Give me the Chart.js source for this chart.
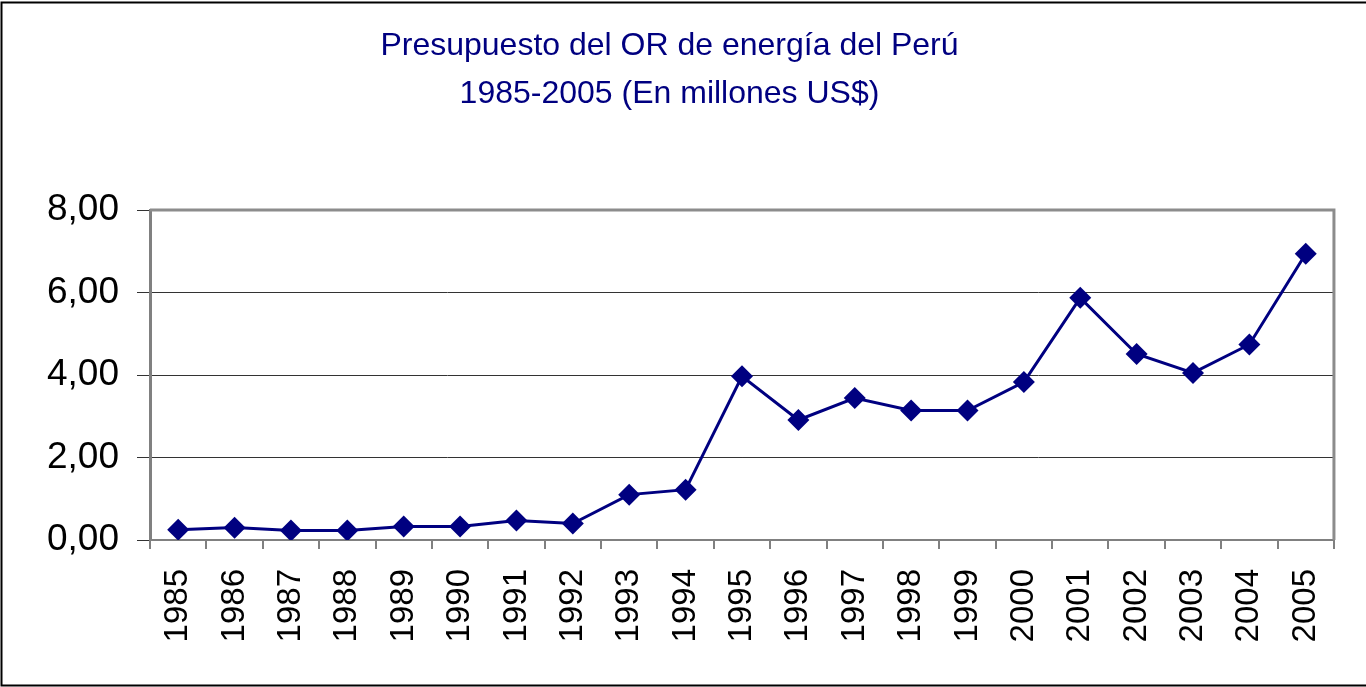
<!DOCTYPE html>
<html>
<head>
<meta charset="utf-8">
<title>Presupuesto del OR de energía del Perú</title>
<script src="https://cdn.jsdelivr.net/npm/chart.js@4"></script>
<style>
  html, body { margin: 0; padding: 0; background: #fff; overflow: hidden; }
  #wrap { width: 1366px; height: 687px; position: relative; }
</style>
</head>
<body>
<div id="wrap"><canvas id="chart"></canvas></div>
<script>
/* ---------- data ---------- */
const years = ["1985", "1986", "1987", "1988", "1989", "1990", "1991", "1992", "1993", "1994",
  "1995", "1996", "1997", "1998", "1999", "2000", "2001", "2002", "2003", "2004", "2005"];
const budget = [0.25, 0.30, 0.23, 0.23, 0.33, 0.33, 0.47, 0.40, 1.10, 1.22,
  3.97, 2.91, 3.44, 3.14, 3.14, 3.83, 5.87, 4.51, 4.05, 4.74, 6.94];
const titleLines = ["Presupuesto del OR de energía del Perú", "1985-2005 (En millones US$)"];
const yTicks = [0, 2, 4, 6, 8];

const NAVY = "#000080";
const FONT = "'Liberation Sans', Arial, sans-serif";

/* ---------- outer frame + plot border ---------- */
const frame = {
  id: "frame",
  beforeDraw(chart) {
    const { ctx } = chart;
    ctx.save();
    ctx.strokeStyle = "#000";
    ctx.lineWidth = 2;
    ctx.strokeRect(1.5, 2.5, chart.width + 10, chart.height - 4);
    ctx.restore();
  },
  beforeDatasetsDraw(chart) {
    const { ctx, chartArea: a } = chart;
    ctx.save();
    ctx.strokeStyle = "#8c8c8c";
    ctx.lineWidth = 3;
    ctx.beginPath();
    ctx.moveTo(a.left, a.top);
    ctx.lineTo(a.right, a.top);
    ctx.lineTo(a.right, a.bottom);
    ctx.stroke();
    ctx.restore();
  },
};

new Chart(document.getElementById("chart"), {
  type: "line",
  data: {
    labels: years,
    datasets: [{
      data: budget,
      borderColor: NAVY,
      backgroundColor: NAVY,
      borderWidth: 3,
      tension: 0,
      pointStyle: "rectRot",
      pointRadius: 11,
      pointHoverRadius: 11,
      pointBackgroundColor: NAVY,
      pointBorderColor: NAVY,
      pointBorderWidth: 0,
    }],
  },
  options: {
    responsive: true, maintainAspectRatio: false, animation: false,
    layout: { padding: { left: 0, right: 27, top: 0, bottom: 0 } },
    plugins: {
      legend: { display: false },
      tooltip: { enabled: false },
      title: {
        display: true,
        text: titleLines,
        color: NAVY,
        font: { family: FONT, size: 32, weight: "normal", lineHeight: 1.5 },
        padding: { top: 22, bottom: 92 },
      },
    },
    scales: {
      x: {
        offset: true,
        grid: { offset: true, drawOnChartArea: false, drawTicks: true, tickLength: 9, color: "#808080", lineWidth: 2 },
        border: { color: "#808080", width: 2 },
        ticks: {
          color: "#000", font: { family: FONT, size: 33 },
          minRotation: 90, maxRotation: 90, padding: 20, autoSkip: false,
        },
        afterFit: (s) => { s.height = 147; },
      },
      y: {
        min: 0, max: 8,
        afterBuildTicks: (s) => { s.ticks = yTicks.map((v) => ({ value: v })); },
        grid: { color: "#333", lineWidth: 1, tickLength: 13, drawTicks: true },
        border: { color: "#808080", width: 3 },
        ticks: {
          color: "#000", font: { family: FONT, size: 37 }, padding: 18,
          callback: (v) => Number(v).toFixed(2).replace(".", ","),
        },
        afterFit: (s) => { s.width = 150; },
      },
    },
  },
  plugins: [frame],
});
</script>
</body>
</html>
